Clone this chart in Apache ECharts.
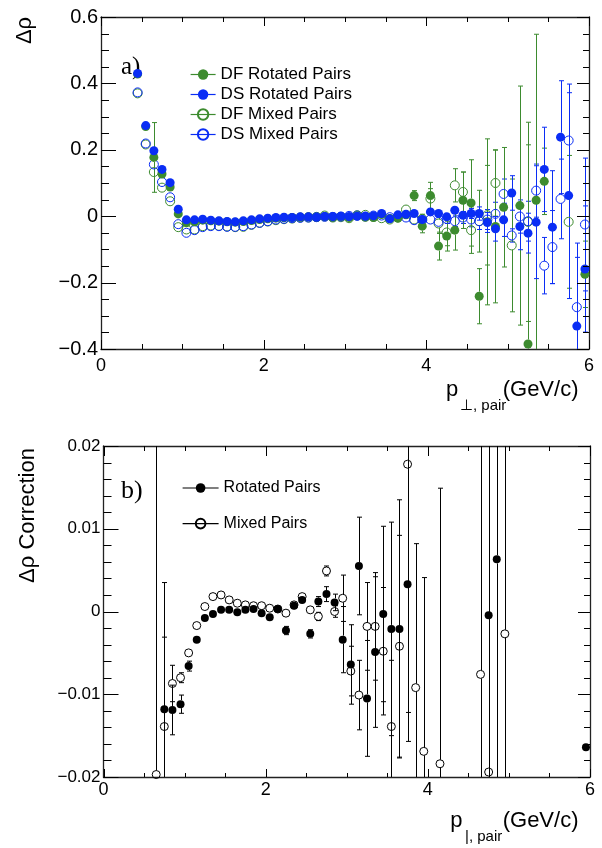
<!DOCTYPE html>
<html><head><meta charset="utf-8">
<script src="https://cdn.jsdelivr.net/npm/echarts@6/dist/echarts.min.js"></script>
<style>html,body{margin:0;padding:0;background:#fff}#c{width:602px;height:848px}</style>
</head><body><div id="c"></div>
<script>
// ---------- panel a data ----------
const xA = [0.45,0.55,0.65,0.75,0.85,0.95,1.05,1.15,1.25,1.35,1.45,1.55,1.65,1.75,1.85,1.95,2.05,2.15,2.25,2.35,2.45,2.55,2.65,2.75,2.85,2.95,3.05,3.15,3.25,3.35,3.45,3.55,3.65,3.75,3.85,3.95,4.05,4.15,4.25,4.35,4.45,4.55,4.65,4.75,4.85,4.95,5.05,5.15,5.25,5.35,5.45,5.55,5.65,5.75,5.85,5.95];
const dsRot = [0.430,0.273,0.197,0.141,0.101,0.021,-0.011,-0.011,-0.009,-0.012,
 -0.014,-0.016,-0.017,-0.014,-0.011,-0.008,-0.006,-0.004,-0.003,-0.004,
 -0.002,-0.002,-0.003,-0.001,-0.001,0.000,-0.001,0.000,0.000,0.001,
 0.008,-0.008,0.004,0.006,0.008,-0.010,0.013,0.008,-0.002,0.018,
 0.003,0.008,0.008,-0.019,-0.038,-0.011,0.070,-0.031,-0.051,-0.018,
 0.141,-0.033,0.238,0.062,-0.331,-0.159];
const dsRotErr = [0.004,0.004,0.004,0.003,0.003,0.003,0.002,0.002,0.002,0.002,
 0.002,0.002,0.002,0.002,0.002,0.002,0.002,0.002,0.002,0.002,
 0.002,0.002,0.002,0.002,0.003,0.003,0.003,0.003,0.003,0.004,
 0.004,0.005,0.005,0.006,0.006,0.007,0.008,0.009,0.010,0.012,
 0.012,0.015,0.020,0.030,0.037,0.050,0.052,0.070,0.060,0.170,
 0.127,0.170,0.170,0.310,0.250,0.190];
const dfRot = [0.428,0.270,0.177,0.127,0.088,0.007,-0.020,-0.017,-0.012,-0.014,
 -0.015,-0.017,-0.018,-0.016,-0.013,-0.010,-0.008,-0.006,-0.005,-0.004,
 -0.003,-0.002,-0.003,-0.002,-0.003,-0.001,-0.004,0.001,-0.003,-0.004,
 0.005,-0.007,-0.006,0.004,0.062,-0.030,0.062,-0.090,-0.060,-0.042,
 0.048,0.040,-0.241,-0.017,-0.031,0.027,null,0.032,-0.385,0.048,
 0.105,null,null,null,null,-0.175];
const dfRotErr = [0.004,0.004,0.105,0.004,0.004,0.003,0.003,0.003,0.003,0.003,
 0.003,0.003,0.003,0.003,0.003,0.003,0.003,0.003,0.003,0.003,
 0.003,0.003,0.003,0.004,0.004,0.004,0.004,0.005,0.005,0.005,
 0.006,0.006,0.007,0.008,0.015,0.020,0.040,0.042,0.045,0.060,
 0.085,0.130,0.083,0.250,0.230,0.180,null,0.360,0.600,0.500,
 0.100,null,null,null,null,0.100];
const dsMix = [0.373,0.219,0.156,0.103,0.057,-0.024,-0.050,-0.042,-0.033,-0.030,
 -0.030,-0.032,-0.032,-0.030,-0.025,-0.020,-0.015,-0.010,-0.008,-0.006,
 -0.005,-0.004,-0.003,-0.002,-0.002,-0.001,0.001,0.002,-0.001,0.002,
 0.002,-0.003,0.000,-0.004,-0.012,-0.012,-0.010,-0.017,-0.008,-0.015,
 -0.004,-0.010,-0.015,-0.010,0.007,0.067,-0.058,-0.001,-0.015,0.077,
 -0.149,-0.093,0.052,0.228,-0.274,-0.025];
const dsMixErr = [0.004,0.004,0.004,0.003,0.003,0.003,0.003,0.003,0.003,0.003,
 0.003,0.003,0.003,0.003,0.003,0.003,0.003,0.003,0.003,0.003,
 0.003,0.003,0.003,0.003,0.004,0.004,0.004,0.004,0.004,0.005,
 0.005,0.006,0.006,0.007,0.008,0.009,0.010,0.012,0.014,0.016,
 0.018,0.022,0.025,0.030,0.035,0.045,0.020,0.050,0.060,0.080,
 0.085,0.110,0.120,0.170,0.150,0.200];
const dfMix = [0.370,0.216,0.133,0.086,0.045,-0.033,-0.040,-0.040,-0.030,-0.028,
 -0.029,-0.031,-0.033,-0.032,-0.026,-0.020,-0.016,-0.012,-0.009,-0.007,
 -0.004,-0.004,-0.002,0.002,-0.004,-0.003,-0.006,0.003,0.004,-0.002,
 -0.006,-0.010,-0.004,0.020,-0.010,-0.008,0.053,-0.022,-0.049,0.093,
 0.073,-0.042,-0.015,0.003,0.100,null,-0.088,null,-0.017,null,
 null,null,null,-0.017,null,null];
const dfMixErr = [0.004,0.004,0.004,0.004,0.004,0.004,0.004,0.004,0.004,0.004,
 0.004,0.004,0.004,0.004,0.004,0.004,0.004,0.004,0.004,0.004,
 0.004,0.005,0.005,0.005,0.005,0.006,0.006,0.006,0.007,0.007,
 0.008,0.008,0.009,0.010,0.012,0.014,0.030,0.030,0.040,0.050,
 0.060,0.070,0.093,0.150,0.100,null,0.200,null,0.300,null,
 null,null,null,0.200,null,null];

// ---------- panel b data ----------
const xB = [0.65,0.75,0.85,0.95,1.05,1.15,1.25,1.35,1.45,1.55,1.65,1.75,1.85,1.95,2.05,2.15,2.25,2.35,2.45,2.55,2.65,2.75,2.85,2.95,3.05,3.15,3.25,3.35,3.45,3.55,3.65,3.75,3.85,3.95,4.05,4.15,4.25,4.35,4.45,4.55,4.65,4.75,4.85,4.95,5.05,5.15,5.25,5.35,5.45,5.55,5.65,5.75,5.85,5.95];
const rotB = [null,-0.0118,-0.0119,-0.0112,-0.0066,-0.0034,-0.0008,-0.0003,0.0002,0.0002,
 -0.0001,0.0002,0.0003,-0.0002,-0.0007,0.0003,-0.0023,0.0007,0.0014,-0.0027,
 0.0012,0.0021,0.0011,-0.0034,-0.0064,0.0055,-0.0105,-0.0049,-0.0003,-0.0021,
 -0.0021,0.0033,null,null,null,null,null,null,null,null,
 null,-0.00045,0.0063,null,null,null,null,null,null,null,
 null,null,null,-0.0164];
const rotBErr = [null,0.0087,0.0030,0.0011,0.0006,0.0003,0.0003,0.0003,0.0003,0.0003,
 0.0003,0.0003,0.0003,0.0003,0.0004,0.0004,0.0005,0.0004,0.0004,0.0005,
 0.0006,0.0009,0.0010,0.0040,0.0048,0.0059,0.0070,0.0091,0.0106,0.0129,
 0.0156,0.0190,null,null,null,null,null,null,null,null,
 null,0.0500,0.0500,null,null,null,null,null,null,null,
 null,null,null,0.0004];
const mixB = [-0.0197,-0.0139,-0.0087,-0.0080,-0.0050,-0.0017,0.0006,0.0018,0.0020,0.0014,
 0.0010,0.0008,0.0007,0.0007,0.0004,0.0003,-0.0002,0.0008,0.0018,0.0002,
 -0.0006,0.0049,0.0000,0.0016,-0.0072,-0.0101,-0.0018,-0.0018,-0.0048,-0.0139,
 -0.0042,0.0178,-0.0092,-0.0169,null,-0.0184,null,null,null,null,
 -0.0076,-0.0194,null,-0.0027,null,null,null,null,null,null,
 null,null,null,null];
const mixBErr = [0.0500,0.0174,0.0022,0.0006,0.0003,0.0003,0.0003,0.0003,0.0003,0.0003,
 0.0003,0.0003,0.0003,0.0003,0.0003,0.0003,0.0003,0.0003,0.0003,0.0004,
 0.0005,0.0006,0.0007,0.0028,0.0030,0.0042,0.0053,0.0065,0.0077,0.0080,
 0.0134,0.0300,0.0174,0.0210,null,0.0333,null,null,null,null,
 0.0500,0.0500,null,0.0500,null,null,null,null,null,null,
 null,null,null,null];

// ---------- axes and tick positions ----------
const yTicksA = {min:-0.4, max:0.6, interval:0.2};
const yTicksB = {min:-0.02, max:0.02, interval:0.01};
const xTicks = {min:0, max:6, interval:2};
const xMajor = [0, 2, 4, 6];
const xMinor = [0.5, 1, 1.5, 2.5, 3, 3.5, 4.5, 5, 5.5];
const yMajorA = [-0.4, -0.2, 0, 0.2, 0.4, 0.6];
const yMinorA = [-0.35,-0.3,-0.25,-0.15,-0.1,-0.05,0.05,0.1,0.15,0.25,0.3,0.35,0.45,0.5,0.55];
const yMajorB = [-0.02, -0.01, 0, 0.01, 0.02];
const yMinorB = [-0.018,-0.016,-0.014,-0.012,-0.008,-0.006,-0.004,-0.002,0.002,0.004,0.006,0.008,0.012,0.014,0.016,0.018];

const FONT = "'Liberation Sans', Arial, Helvetica, sans-serif";
const SERIF = "'Liberation Serif', 'DejaVu Serif', serif";
const GREEN = '#3d8b2f', BLUE = '#0a2df5', BLACK = '#000';
const FRAME = '#222';
const fmt = v => String(+(+v).toFixed(6)).replace('-', '\u2212');

function makeX(grid, pos, label, margin) {
  return {type:'value', gridIndex:grid, position:pos, min:xTicks.min, max:xTicks.max, interval:xTicks.interval,
    axisLine:{show:true, onZero:false, lineStyle:{color:FRAME, width:1.3}},
    axisTick:{show:false}, minorTick:{show:false},
    splitLine:{show:false}, minorSplitLine:{show:false},
    axisLabel:{show:label, color:'#000', fontFamily:FONT, fontSize:18, margin:margin, formatter:fmt, showMinLabel:true, showMaxLabel:true}};
}
function makeY(grid, pos, t, label, fs) {
  return {type:'value', gridIndex:grid, position:pos, min:t.min, max:t.max, interval:t.interval,
    axisLine:{show:true, onZero:false, lineStyle:{color:FRAME, width:1.3}},
    axisTick:{show:false}, minorTick:{show:false},
    splitLine:{show:false}, minorSplitLine:{show:false},
    axisLabel:{show:label, color:'#000', fontFamily:FONT, fontSize:fs, margin:3, formatter:fmt, showMinLabel:true, showMaxLabel:true}};
}

// error bars: vertical line with small caps, interrupted inside the marker (ROOT style)
function errSeries(xs, ys, es, color, xi, yi, cap, r) {
  const data = [];
  for (let i = 0; i < xs.length; i++) {
    if (ys[i] != null && es[i] != null) data.push([xs[i], ys[i] - es[i], ys[i] + es[i], ys[i]]);
  }
  return {type:'custom', xAxisIndex:xi, yAxisIndex:yi, data:data, silent:true, z:2,
    encode:{x:0, y:[1,2]},
    renderItem:function(params, api){
      const cs = params.coordSys;
      const lo = api.coord([api.value(0), api.value(1)]);
      const hi = api.coord([api.value(0), api.value(2)]);
      const c = api.coord([api.value(0), api.value(3)]);
      const x = Math.round(lo[0]) + 0.5;
      const top = cs.y, bot = cs.y + cs.height;
      const cl = v => Math.min(Math.max(v, top), bot);
      const st = {stroke:color, lineWidth:1};
      const ch = [];
      if (hi[1] < c[1] - r) {
        ch.push({type:'line', shape:{x1:x, y1:cl(hi[1]), x2:x, y2:cl(c[1]-r)}, style:st});
        if (hi[1] >= top) ch.push({type:'line', shape:{x1:x-cap, y1:hi[1], x2:x+cap, y2:hi[1]}, style:st});
      }
      if (lo[1] > c[1] + r) {
        ch.push({type:'line', shape:{x1:x, y1:cl(c[1]+r), x2:x, y2:cl(lo[1])}, style:st});
        if (lo[1] <= bot) ch.push({type:'line', shape:{x1:x-cap, y1:lo[1], x2:x+cap, y2:lo[1]}, style:st});
      }
      return {type:'group', children:ch};
    }};
}
function markSeries(name, xs, ys, color, filled, xi, yi, size) {
  const data = [];
  for (let i = 0; i < xs.length; i++) if (ys[i] != null) data.push([xs[i], ys[i]]);
  return {type:'line', name:name, xAxisIndex:xi, yAxisIndex:yi, data:data, z: filled ? 4 : 3,
    symbol:'circle', symbolSize:size, showSymbol:true, showAllSymbol:true,
    lineStyle:{color:color, width:0, opacity:0},
    itemStyle: filled ? {color:color, borderColor:color, borderWidth:0}
                      : {color:'rgba(255,255,255,0)', borderColor:color, borderWidth:1},
    emphasis:{disabled:true}};
}

const gridA = {left:101, top:17, width:488, height:332};
const gridB = {left:103.5, top:446, width:486.5, height:331};

const texts = [
  {type:'text', x:25, y:30.5, rotation:Math.PI/2,
   style:{text:'\u0394\u03c1', font:'22px '+FONT, fill:'#000', textAlign:'center', textVerticalAlign:'middle'}},
  {type:'text', x:28, y:515.5, rotation:Math.PI/2,
   style:{text:'\u0394\u03c1 Correction', font:'22px '+FONT, fill:'#000', textAlign:'center', textVerticalAlign:'middle'}},
  {type:'text', x:121, y:67.5, style:{text:'a)', font:'25px '+SERIF, fill:'#000', textAlign:'left', textVerticalAlign:'middle'}},
  {type:'text', x:121, y:491, style:{text:'b)', font:'26px '+SERIF, fill:'#000', textAlign:'left', textVerticalAlign:'middle'}},
  {type:'text', x:446, y:390.4, style:{text:'p', font:'22px '+FONT, fill:'#000', textAlign:'left', textVerticalAlign:'middle'}},
  {type:'text', x:460, y:405.8, style:{text:'\u22a5, pair', font:'15px '+FONT, fill:'#000', textAlign:'left', textVerticalAlign:'middle'}},
  {type:'text', x:502.7, y:390.4, style:{text:'(GeV/c)', font:'22px '+FONT, fill:'#000', textAlign:'left', textVerticalAlign:'middle'}},
  {type:'text', x:450.2, y:821.4, style:{text:'p', font:'22px '+FONT, fill:'#000', textAlign:'left', textVerticalAlign:'middle'}},
  {type:'text', x:465, y:836.8, style:{text:'|, pair', font:'15px '+FONT, fill:'#000', textAlign:'left', textVerticalAlign:'middle'}},
  {type:'text', x:502.7, y:821.4, style:{text:'(GeV/c)', font:'22px '+FONT, fill:'#000', textAlign:'left', textVerticalAlign:'middle'}}
];

const chart = echarts.init(document.getElementById('c'), null, {renderer:'canvas'});
chart.setOption({
  animation:false,
  backgroundColor:'#fff',
  grid:[gridA, gridB, Object.assign({}, gridA), Object.assign({}, gridB)],
  xAxis:[makeX(0,'bottom',true,8), makeX(1,'bottom',true,4),
         makeX(2,'top',false,8), makeX(3,'top',false,4)],
  yAxis:[makeY(0,'left',yTicksA,true,20), makeY(1,'left',yTicksB,true,17),
         makeY(2,'right',yTicksA,false,20), makeY(3,'right',yTicksB,false,17)],
  legend:[
    {data:['DF Rotated Pairs','DS Rotated Pairs','DF Mixed Pairs','DS Mixed Pairs'],
     orient:'vertical', left:190, top:66, padding:0, itemWidth:25, itemHeight:13, itemGap:3, selectedMode:false,
     textStyle:{fontFamily:FONT, fontSize:17, lineHeight:17, color:'#000'},
     lineStyle:{width:1.2, opacity:1}},
    {data:['Rotated Pairs','Mixed Pairs'],
     orient:'vertical', left:182, top:480, padding:0, itemWidth:36, itemHeight:12, itemGap:19.6, selectedMode:false,
     textStyle:{fontFamily:FONT, fontSize:16, lineHeight:16, color:'#000'},
     lineStyle:{width:1.2, opacity:1}}
  ],
  series:[
    errSeries(xA, dfMix, dfMixErr, GREEN, 0, 0, 2.5, 4.5),
    errSeries(xA, dsMix, dsMixErr, BLUE, 0, 0, 2.5, 4.5),
    errSeries(xA, dfRot, dfRotErr, GREEN, 0, 0, 2.5, 4.5),
    errSeries(xA, dsRot, dsRotErr, BLUE, 0, 0, 2.5, 4.5),
    markSeries('DF Mixed Pairs', xA, dfMix, GREEN, false, 0, 0, 9),
    markSeries('DS Mixed Pairs', xA, dsMix, BLUE, false, 0, 0, 9),
    markSeries('DF Rotated Pairs', xA, dfRot, GREEN, true, 0, 0, 9),
    markSeries('DS Rotated Pairs', xA, dsRot, BLUE, true, 0, 0, 9),
    errSeries(xB, mixB, mixBErr, BLACK, 1, 1, 2.5, 4),
    errSeries(xB, rotB, rotBErr, BLACK, 1, 1, 2.5, 4),
    markSeries('Mixed Pairs', xB, mixB, BLACK, false, 1, 1, 8),
    markSeries('Rotated Pairs', xB, rotB, BLACK, true, 1, 1, 8)
  ],
  graphic: texts
});

// ROOT-style inward ticks on all four frame sides, positioned with the chart's own axis scales
function tickLines(xi, yi, g, xMaj, xMin, yMaj, yMin, L) {
  const out = [];
  const l = g.left, r = g.left + g.width, t = g.top, b = g.top + g.height;
  const st = {stroke:'#000', lineWidth:1};
  const addX = (v, major) => {
    const px = Math.round(chart.convertToPixel({xAxisIndex:xi}, v)) + 0.5;
    const lb = major ? L.b[0] : L.b[1], lt = major ? L.t[0] : L.t[1];
    out.push({type:'line', silent:true, z:50, shape:{x1:px, y1:b, x2:px, y2:b - lb}, style:st});
    out.push({type:'line', silent:true, z:50, shape:{x1:px, y1:t, x2:px, y2:t + lt}, style:st});
  };
  const addY = (v, major) => {
    const py = Math.round(chart.convertToPixel({yAxisIndex:yi}, v)) + 0.5;
    const ll = major ? L.l[0] : L.l[1], lr = major ? L.r[0] : L.r[1];
    out.push({type:'line', silent:true, z:50, shape:{x1:l, y1:py, x2:l + ll, y2:py}, style:st});
    out.push({type:'line', silent:true, z:50, shape:{x1:r, y1:py, x2:r - lr, y2:py}, style:st});
  };
  xMaj.forEach(v => addX(v, true)); xMin.forEach(v => addX(v, false));
  yMaj.forEach(v => addY(v, true)); yMin.forEach(v => addY(v, false));
  return out;
}
const ticks = [].concat(
  tickLines(0, 0, gridA, xMajor, xMinor, yMajorA, yMinorA, {b:[9,5], t:[9,5], l:[15,8], r:[12,6]}),
  tickLines(1, 1, gridB, xMajor, xMinor, yMajorB, yMinorB, {b:[8,4], t:[10,5], l:[15,8], r:[12,6]})
);
chart.setOption({graphic: texts.concat(ticks)});
</script>
</body></html>
